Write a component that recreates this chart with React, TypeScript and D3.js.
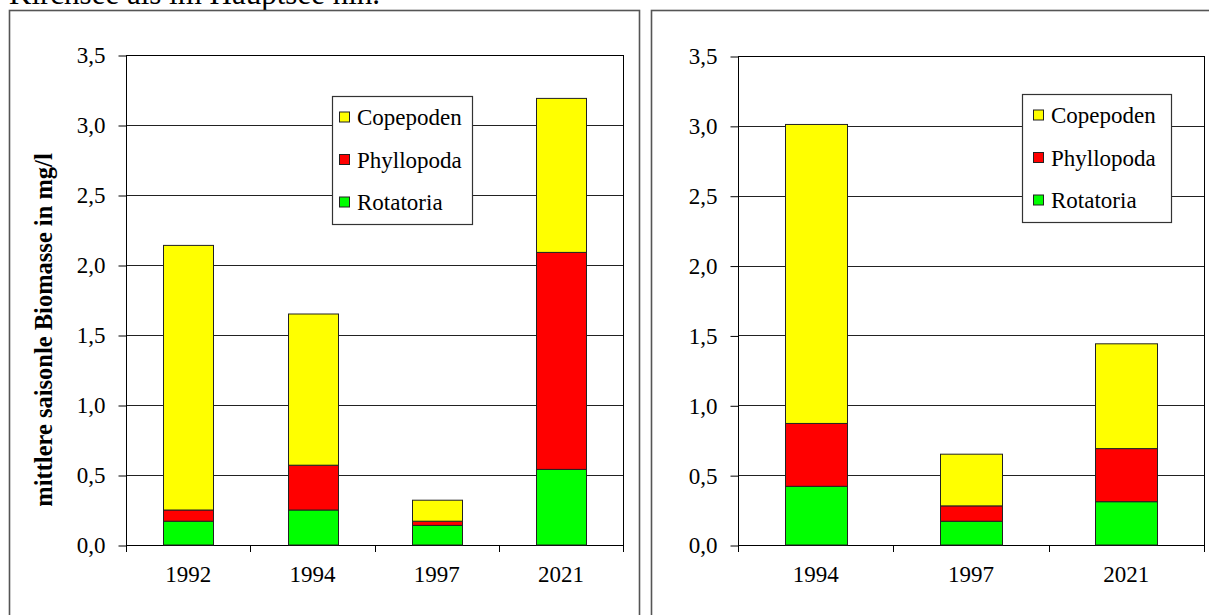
import { useEffect, useRef } from "react";
import * as d3 from "d3";

// Left panel
const yearsLeft = ["1992", "1994", "1997", "2021"];
const rotatoriaLeft = [0.17, 0.25, 0.14, 0.54];
const phyllopodaLeft = [0.08, 0.32, 0.03, 1.55];
const copepodenLeft = [1.89, 1.08, 0.15, 1.10];

// Right panel
const yearsRight = ["1994", "1997", "2021"];
const rotatoriaRight = [0.42, 0.17, 0.31];
const phyllopodaRight = [0.45, 0.11, 0.38];
const copepodenRight = [2.14, 0.37, 0.75];

const yTicks = [0, 0.5, 1.0, 1.5, 2.0, 2.5, 3.0, 3.5];
const groups = ["Rotatoria", "Phyllopoda", "Copepoden"];
const legendOrder = ["Copepoden", "Phyllopoda", "Rotatoria"];
const colors: Record<string, string> = {
	Rotatoria: "#00ff00",
	Phyllopoda: "#ff0000",
	Copepoden: "#ffff00"
};

const yTitle = "mittlere saisonle Biomasse in mg/l";
const headText = "Kirchsee als im Hauptsee hin.";

const FONT = "Liberation Serif, Times New Roman, serif";

type Panel = {
	years: string[];
	rot: number[];
	phy: number[];
	cop: number[];
	left: number;
	right: number;
	top: number;
	bottom: number;
	legend: { x: number; y: number; w: number; h: number; sw: number; tx: number };
};

export default function App() {
	const ref = useRef<SVGSVGElement>(null);

	useEffect(() => {
		const svg = d3.select(ref.current);
		svg.selectAll("*").remove();

		const fmt = (v: number) => d3.format(".1f")(v).replace(".", ",");

		// cut-off line of body text at the very top
		svg.append("text")
			.attr("x", 9)
			.attr("y", 4)
			.style("font-family", FONT)
			.style("font-size", "31px")
			.text(headText);

		// outer frames
		svg.append("rect")
			.attr("x", 9.5).attr("y", 10.5)
			.attr("width", 630).attr("height", 640)
			.attr("fill", "none").attr("stroke", "#555").attr("stroke-width", 1.6);

		svg.append("rect")
			.attr("x", 651.5).attr("y", 10.5)
			.attr("width", 600).attr("height", 640)
			.attr("fill", "none").attr("stroke", "#555").attr("stroke-width", 1.6);

		// y title (left panel only)
		svg.append("text")
			.attr("transform", "translate(52,330) rotate(-90)")
			.attr("text-anchor", "middle")
			.style("font-family", FONT)
			.style("font-weight", "bold")
			.style("font-size", "24.5px")
			.text(yTitle);

		const panels: Panel[] = [
			{
				years: yearsLeft, rot: rotatoriaLeft, phy: phyllopodaLeft, cop: copepodenLeft,
				left: 126, right: 623, top: 55, bottom: 545,
				legend: { x: 332, y: 96, w: 140, h: 128, sw: 7, tx: 25 }
			},
			{
				years: yearsRight, rot: rotatoriaRight, phy: phyllopodaRight, cop: copepodenRight,
				left: 738, right: 1204, top: 56, bottom: 545,
				legend: { x: 1022, y: 94, w: 149, h: 128, sw: 11, tx: 29 }
			}
		];

		panels.forEach(p => {
			const g = svg.append("g");

			const x = d3.scaleBand<string>()
				.domain(p.years)
				.range([p.left, p.right])
				.paddingInner(0.6)
				.paddingOuter(0.3);

			const y = d3.scaleLinear().domain([0, 3.5]).range([p.bottom, p.top]);

			// gridlines
			g.selectAll(".grid")
				.data(yTicks.filter(t => t > 0 && t < 3.5))
				.enter()
				.append("line")
				.attr("x1", p.left).attr("x2", p.right)
				.attr("y1", d => Math.round(y(d)) + 0.5)
				.attr("y2", d => Math.round(y(d)) + 0.5)
				.attr("stroke", "#222").attr("stroke-width", 1);

			// plot border
			g.append("rect")
				.attr("x", p.left + 0.5).attr("y", Math.round(y(3.5)) + 0.5)
				.attr("width", p.right - p.left)
				.attr("height", Math.round(y(0)) - Math.round(y(3.5)))
				.attr("fill", "none").attr("stroke", "#000").attr("stroke-width", 1);

			// y axis ticks + labels
			const yAxis = g.append("g")
				.attr("transform", `translate(${p.left + 0.5},0.5)`)
				.call(d3.axisLeft(y).tickValues(yTicks).tickSize(8).tickPadding(13).tickFormat(d => fmt(d as number)));
			yAxis.select(".domain").remove();
			yAxis.selectAll("line").attr("stroke", "#000");
			yAxis.selectAll("text")
				.style("font-family", FONT)
				.style("font-size", "23px")
				.attr("fill", "#000");

			// x axis: ticks at category boundaries
			const step = x.step();
			g.selectAll(".xtick")
				.data(d3.range(p.years.length + 1))
				.enter()
				.append("line")
				.attr("x1", i => Math.round(p.left + i * step) + 0.5)
				.attr("x2", i => Math.round(p.left + i * step) + 0.5)
				.attr("y1", p.bottom)
				.attr("y2", p.bottom + 7)
				.attr("stroke", "#000");

			g.selectAll(".xlabel")
				.data(p.years)
				.enter()
				.append("text")
				.attr("x", d => x(d)! + x.bandwidth() / 2)
				.attr("y", 582)
				.attr("text-anchor", "middle")
				.style("font-family", FONT)
				.style("font-size", "23px")
				.text(d => d);

			// stacked bars
			const rows = p.years.map((yr, i) => ({
				year: yr,
				Rotatoria: p.rot[i],
				Phyllopoda: p.phy[i],
				Copepoden: p.cop[i]
			}));
			const series = d3.stack<any>().keys(groups)(rows);

			series.forEach(s => {
				g.selectAll(null)
					.data(s)
					.enter()
					.append("rect")
					.attr("x", d => Math.round(x(d.data.year)!) + 0.5)
					.attr("y", d => y(d[1]))
					.attr("width", Math.round(x.bandwidth()))
					.attr("height", d => y(d[0]) - y(d[1]))
					.attr("fill", colors[s.key])
					.attr("stroke", "#222")
					.attr("stroke-width", 1);
			});

			// legend
			const L = p.legend;
			const lg = g.append("g").attr("transform", `translate(${L.x},${L.y})`);
			lg.append("rect")
				.attr("x", 0.5).attr("y", 0.5)
				.attr("width", L.w).attr("height", L.h)
				.attr("fill", "#fff").attr("stroke", "#333").attr("stroke-width", 1.2);

			legendOrder.forEach((key, i) => {
				const cy = 21 + i * 42.5;
				lg.append("rect")
					.attr("x", L.sw + 0.5).attr("y", cy - 5)
					.attr("width", 10).attr("height", 10)
					.attr("fill", colors[key])
					.attr("stroke", "#222");
				lg.append("text")
					.attr("x", L.tx)
					.attr("y", cy + 8)
					.style("font-family", FONT)
					.style("font-size", "23px")
					.text(key);
			});
		});
	}, []);

	return (
		<svg
			ref={ref}
			width={1209}
			height={615}
			style={{ position: "absolute", left: 0, top: 0, background: "#fff" }}
		></svg>
	);
}
